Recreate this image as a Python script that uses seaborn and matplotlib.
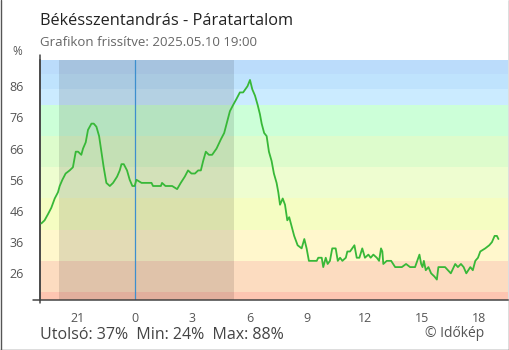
import matplotlib
matplotlib.use("Agg")
import matplotlib.pyplot as plt
import seaborn as sns
import pandas as pd
from matplotlib.lines import Line2D

title = "Békésszentandrás - Páratartalom"
subtitle = "Grafikon frissítve: 2025.05.10 19:00"
y_unit = "%"
credit = "© Időkép"

# hours relative to midnight (negative = previous evening)
hours = [-4.90, -4.73, -4.55, -4.38, -4.20, -4.03, -3.94, -3.80, -3.63, -3.42,
         -3.25, -3.10, -2.98, -2.81, -2.72, -2.58, -2.46, -2.28, -2.16, -2.02,
         -1.88, -1.76, -1.64, -1.50, -1.32, -1.15, -0.94, -0.80, -0.71, -0.59,
         -0.42, -0.28, -0.14, -0.02, 0.07, 0.34, 0.86, 0.94, 1.35, 1.41,
         1.59, 1.94, 2.20, 2.39, 2.60, 2.77, 2.95, 3.13, 3.30, 3.44,
         3.56, 3.70, 3.86, 4.03, 4.26, 4.49, 4.66, 4.79, 4.96, 5.13,
         5.31, 5.48, 5.65, 5.88, 6.01, 6.13, 6.27, 6.41, 6.53, 6.62,
         6.75, 6.88, 7.00, 7.14, 7.26, 7.40, 7.49, 7.58, 7.72, 7.84,
         7.96, 8.06, 8.19, 8.32, 8.50, 8.71, 8.85, 8.97, 9.09, 9.32,
         9.50, 9.58, 9.76, 9.84, 9.97, 10.07, 10.19, 10.31, 10.49, 10.60,
         10.72, 10.84, 11.02, 11.10, 11.24, 11.47, 11.59, 11.73, 11.88, 12.02,
         12.20, 12.32, 12.46, 12.64, 12.76, 12.86, 12.93, 12.98, 13.16, 13.39,
         13.60, 13.95, 14.17, 14.38, 14.64, 14.87, 14.96, 15.03, 15.10, 15.20,
         15.34, 15.48, 15.65, 15.78, 15.86, 16.21, 16.36, 16.51, 16.74, 16.88,
         17.04, 17.18, 17.32, 17.53, 17.66, 17.79, 17.93, 18.05, 18.31, 18.52,
         18.66, 18.80, 18.92, 19.00]
humidity = [42, 43, 45, 47, 50, 52, 54, 56, 58, 59,
            60, 65, 65, 64, 66, 68, 72, 74, 74, 73,
            70, 65, 60, 55, 54, 55, 57, 59, 61, 61,
            59, 56, 54, 54, 56, 55, 55, 54, 54, 55,
            54, 54, 53, 55, 57, 59, 58, 58, 59, 59,
            62, 65, 64, 64, 66, 69, 71, 74, 78, 80,
            82, 84, 84, 86, 88, 85, 83, 80, 77, 74,
            71, 70, 65, 62, 58, 55, 52, 48, 50, 48,
            43, 44, 41, 38, 35, 34, 37, 34, 30, 30,
            30, 31, 31, 28, 31, 29, 30, 34, 34, 30,
            31, 30, 31, 33, 33, 35, 31, 31, 34, 31,
            32, 31, 32, 31, 30, 34, 33, 29, 30, 30,
            28, 28, 29, 28, 28, 32, 29, 28, 30, 27,
            28, 26, 25, 24, 28, 28, 27, 26, 29, 28,
            29, 28, 26, 28, 27, 30, 31, 33, 34, 35,
            36, 38, 38, 37]

xtick_pos = [-3, 0, 3, 6, 9, 12, 15, 18]
xtick_labels = ["21", "0", "3", "6", "9", "12", "15", "18"]
ytick_pos = [26, 36, 46, 56, 66, 76, 86]
band_edges = [0, 20, 30, 40, 50, 60, 70, 80, 85, 90, 100]
band_colors = ["#fdc5b1", "#fcdcc0", "#fff7cc", "#f5fdc2", "#eefdd0",
               "#ddfccc", "#ccffd8", "#cbebff", "#bfe3fd", "#bbdcfb"]
night = [-4.0, 5.17]

df = pd.DataFrame({"hour": hours, "rh": humidity})

sns.set_theme(style="white")
plt.rcParams["font.family"] = ["Open Sans", "DejaVu Sans"]

fig = plt.figure(figsize=(5.1, 3.5), dpi=100)
ax = fig.add_axes([40 / 510, 50 / 350, 468 / 510, 240 / 350])
ax.set_xlim(-4.97, 19.5)
ax.set_ylim(17.45, 94.4)

for i, c in enumerate(band_colors):
    ax.axhspan(band_edges[i], band_edges[i + 1], color=c, lw=0, zorder=0)
ax.axvspan(night[0], night[1], color="black", alpha=0.11, lw=0, zorder=1)
ax.axvline(0, color="#3d8fce", lw=0.9, zorder=2)

sns.lineplot(data=df, x="hour", y="rh", ax=ax, color="#38b838", lw=1.3,
             zorder=3)

ax.set_xticks(xtick_pos)
ax.set_xticklabels(xtick_labels)
ax.set_yticks(ytick_pos)
ax.set_xlabel("")
ax.set_ylabel("")
ax.tick_params(axis="both", direction="inout", length=9, width=1,
               color="#444444", labelcolor="#555555", labelsize=9)
ax.tick_params(axis="y", pad=7)
ax.tick_params(axis="x", pad=4)
for s in ["top", "right"]:
    ax.spines[s].set_visible(False)
for s in ["left", "bottom"]:
    ax.spines[s].set_color("#444444")
    ax.spines[s].set_linewidth(1.1)

# axis line extensions
ax.add_line(Line2D([0, 0], [-3 / 240, 1.02], transform=ax.transAxes,
                   color="#444444", lw=1.1, clip_on=False))
ax.add_line(Line2D([-7 / 468, 0], [0, 0], transform=ax.transAxes,
                   color="#444444", lw=1.1, clip_on=False))

fig.text(40 / 510, 1 - 25 / 350, title, fontsize=11.8, color="#222222")
fig.text(40 / 510, 1 - 46 / 350, subtitle, fontsize=9.5, color="#666666")
fig.text(12 / 510, 1 - 55 / 350, y_unit, fontsize=8.5, color="#555555")

last, vmin, vmax = humidity[-1], min(humidity), max(humidity)
fig.text(40 / 510, 1 - 339 / 350,
         f"Utolsó: {last}%  Min: {vmin}%  Max: {vmax}%",
         fontsize=11.5, color="#444444")
fig.text(425 / 510, 1 - 337 / 350, credit, fontsize=10, color="#555555")

# figure border (left, bottom, right)
for xs, ys in [([0.5 / 510, 0.5 / 510], [0, 1]),
               ([0, 1], [0.5 / 350, 0.5 / 350]),
               ([1 - 0.5 / 510, 1 - 0.5 / 510], [0, 1])]:
    fig.add_artist(Line2D(xs, ys, transform=fig.transFigure,
                          color="#555555", lw=1.0))

fig.savefig("out.png", dpi=100)
